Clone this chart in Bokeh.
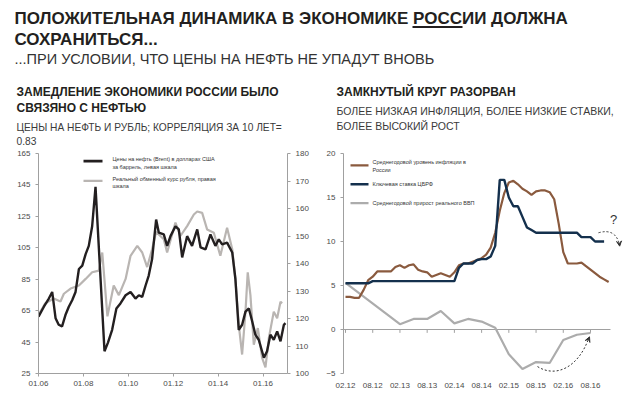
from bokeh.plotting import figure
from bokeh.layouts import column, row
from bokeh.models import Range1d, LinearAxis, FixedTicker, Arrow, VeeHead
from bokeh.core.properties import value
from bokeh.embed import file_html
from bokeh.resources import INLINE

FN = "Liberation Sans"
FA = "Liberation Sans"

# ---------------- data: left chart ----------------
oil_x = [2006.0, 2006.24, 2006.46, 2006.61, 2006.76, 2006.9, 2007.05, 2007.2, 2007.35, 2007.5,
         2007.65, 2007.8, 2007.95, 2008.1, 2008.24, 2008.39, 2008.54, 2008.94, 2009.09, 2009.28,
         2009.47, 2009.65, 2009.88, 2010.1, 2010.32, 2010.47, 2010.62, 2010.77, 2010.91, 2011.06,
         2011.24, 2011.36, 2011.58, 2011.73, 2011.88, 2012.1, 2012.25, 2012.4, 2012.62, 2012.84,
         2013.07, 2013.22, 2013.44, 2013.66, 2013.88, 2014.03, 2014.18, 2014.4, 2014.63, 2014.77,
         2014.92, 2015.07, 2015.22, 2015.37, 2015.52, 2015.66, 2015.81, 2016.04, 2016.18, 2016.33,
         2016.48, 2016.63, 2016.78, 2016.93, 2017.0]
oil_y = [61.2, 67.5, 72.7, 76.9, 60.2, 56, 55, 62.2, 67.5, 71.6,
         76.9, 91.5, 93.6, 101, 106.2, 118.7, 143.8, 39.2, 44.5, 52.8,
         66.4, 69.6, 74.8, 76.9, 72.7, 74.8, 73.8, 81, 87.3, 97.8,
         123, 114.6, 113.5, 106.2, 112.4, 118.7, 116.7, 98.9, 112.4, 106.2,
         116.7, 105.2, 104, 113.5, 106.2, 110.4, 107.2, 108.3, 102, 85.3,
         52.8, 56, 64.4, 66.4, 58.1, 49.7, 46.5, 35, 39.2, 49.7,
         46.5, 51.8, 45.5, 56, 57]
rub_x = [2006.0, 2006.3, 2006.68, 2006.98, 2007.13, 2007.43, 2007.8, 2008.1, 2008.39, 2008.69,
         2008.76, 2008.84, 2009.07, 2009.35, 2009.58, 2009.88, 2010.1, 2010.4, 2010.62, 2010.84,
         2011.06, 2011.24, 2011.58, 2011.73, 2012.1, 2012.32, 2012.62, 2012.92, 2013.07, 2013.29,
         2013.51, 2013.81, 2014.1, 2014.4, 2014.63, 2014.77, 2014.92, 2015.07, 2015.22, 2015.32,
         2015.44, 2015.59, 2015.77, 2015.96, 2016.11, 2016.26, 2016.48, 2016.63, 2016.78, 2016.85]
rub_y = [121.3, 125.5, 127.3, 126.2, 129, 130.9, 132, 134.4, 136.8, 137.4,
         140.4, 144, 120.8, 132, 128.5, 134.4, 142.8, 146.4, 144, 138.7,
         145.2, 151.5, 148.8, 144, 154.9, 150, 153.6, 157.8, 158.9, 158.4,
         152.4, 151.2, 142.8, 153, 145.2, 134.4, 117.7, 106.9, 122.5, 136.8,
         128.5, 110.5, 116.5, 105.7, 102.2, 112.9, 122.5, 120.1, 126.1, 125.5]
left_ticks = [2006, 2008, 2010, 2012, 2014, 2016]
left_tick_labels = ["01.06", "01.08", "01.10", "01.12", "01.14", "01.16"]
oil_ticks = [25, 45, 65, 85, 105, 125, 145, 165]
rub_ticks = [100, 110, 120, 130, 140, 150, 160, 170, 180]

# ---------------- data: right chart (months since 02.12) ----------------
infl_m = list(range(0, 59))
infl = [3.7, 3.7, 3.6, 3.6, 4.5, 5.6, 6.0, 6.6, 6.6, 6.6,
        6.6, 7.1, 7.3, 7.0, 7.3, 7.4, 6.8, 6.6, 6.5, 6.0,
        6.2, 6.4, 6.2, 6.0, 6.5, 7.3, 7.5, 7.5, 7.7, 7.9,
        8.1, 8.5, 9.3, 11.0, 13.5, 15.5, 16.7, 16.9, 16.5, 16.0,
        15.7, 15.3, 15.7, 15.8, 15.8, 15.6, 14.8, 12.0, 8.8, 7.5,
        7.5, 7.5, 7.6, 7.2, 6.8, 6.4, 6.0, 5.7, 5.4]
rate_m = list(range(0, 58))
rate = [5.25, 5.25, 5.25, 5.25, 5.25, 5.25, 5.5, 5.5, 5.5, 5.5,
        5.5, 5.5, 5.5, 5.5, 5.5, 5.5, 5.5, 5.5, 5.5, 5.5,
        5.5, 5.5, 5.5, 5.5, 5.5, 7.0, 7.5, 7.5, 7.5, 7.9,
        8.0, 8.0, 8.3, 9.5, 17.0, 17.0, 15.0, 14.0, 14.0, 12.8,
        11.6, 11.3, 11.0, 11.0, 11.0, 11.0, 11.0, 11.0, 11.0, 11.0,
        11.0, 11.0, 10.5, 10.5, 10.5, 10.0, 10.0, 10.0]
gdp_m = [0, 12, 15, 18, 21, 24, 27, 30, 33, 36, 39, 42, 45, 48, 51, 54]
gdp = [5.3, 0.6, 1.2, 1.2, 2.1, 0.7, 1.2, 0.9, 0.2, -2.8, -4.5, -3.7, -3.8, -1.2, -0.6, -0.4]
right_ticks = [0, 6, 12, 18, 24, 30, 36, 42, 48, 54]
right_tick_labels = ["02.12", "08.12", "02.13", "08.13", "02.14", "08.14", "02.15", "08.15", "02.16", "08.16"]
pct_ticks = [-5, 0, 5, 10, 15, 20]

OIL_C = "#231f20"
RUB_C = "#b9b5b2"
INF_C = "#8a5a3e"
RATE_C = "#14304d"
GDP_C = "#acacac"
AX_C = "#a0a0a0"
LAB_C = "#4a4a4a"


def clean(p):
    p.grid.visible = False
    p.outline_line_color = None
    p.background_fill_color = "white"
    p.border_fill_color = "white"


# ---------------- header (page pixel coordinates) ----------------
HH = 149
hdr = figure(width=640, height=HH, x_range=Range1d(0, 640), y_range=Range1d(HH, 0),
             output_backend="svg", toolbar_location=None, x_axis_type=None, y_axis_type=None,
             min_border_left=0, min_border_right=0, min_border_top=0, min_border_bottom=0)
clean(hdr)


def htext(x, y, s, size, bold=False, color="#231f20"):
    # y is the wanted baseline; the rendered glyph sits ~0.3em lower, so compensate
    hdr.text(x=[x], y=[y - 0.3 * size], text=[s], text_font=value(FN), text_font_size=f"{size}px",
             text_font_style="bold" if bold else "normal", text_baseline="alphabetic",
             text_color=color)


htext(14, 23.5, "ПОЛОЖИТЕЛЬНАЯ ДИНАМИКА В ЭКОНОМИКЕ РОССИИ ДОЛЖНА", 17, True)
htext(14, 44.5, "СОХРАНИТЬСЯ...", 17, True)
htext(14, 63, "...ПРИ УСЛОВИИ, ЧТО ЦЕНЫ НА НЕФТЬ НЕ УПАДУТ ВНОВЬ", 14.5, False, "#333333")
hdr.segment(x0=[412], y0=[26.5], x1=[462], y1=[26.5], line_width=1.8, line_color="#231f20")

htext(16, 95, "ЗАМЕДЛЕНИЕ ЭКОНОМИКИ РОССИИ БЫЛО", 12, True)
htext(16, 111, "СВЯЗЯНО С НЕФТЬЮ", 12, True)
htext(16, 130, "ЦЕНЫ НА НЕФТЬ И РУБЛЬ; КОРРЕЛЯЦИЯ ЗА 10 ЛЕТ=", 10.2, False, "#3a3a3a")
htext(16, 144, "0.83", 10.2, False, "#3a3a3a")

htext(336, 95, "ЗАМКНУТЫЙ КРУГ РАЗОРВАН", 12, True)
htext(336, 114, "БОЛЕЕ НИЗКАЯ ИНФЛЯЦИЯ, БОЛЕЕ НИЗКИЕ СТАВКИ,", 10.5, False, "#3a3a3a")
htext(336, 128.5, "БОЛЕЕ ВЫСОКИЙ РОСТ", 10.5, False, "#3a3a3a")


def style_axis(ax, tick_out=3, standoff=4):
    ax.axis_line_color = AX_C
    ax.major_tick_line_color = AX_C
    ax.minor_tick_line_color = None
    ax.major_tick_in = 0
    ax.major_tick_out = tick_out
    ax.major_label_standoff = standoff
    ax.major_label_text_font = FA
    ax.major_label_text_font_size = "8px"
    ax.major_label_text_color = LAB_C


PH = 399 - HH  # height of the chart row

# ---------------- left chart ----------------
PXL = 22.45  # px per year
lp = figure(width=312, height=PH, x_range=Range1d(2006, 2006 + 249 / PXL), y_range=Range1d(25, 165),
            output_backend="svg", toolbar_location=None,
            min_border_left=38, min_border_right=25, min_border_top=153 - HH, min_border_bottom=399 - 376)
clean(lp)
lp.extra_y_ranges = {"rub": Range1d(100, 180)}
lp.xaxis.ticker = FixedTicker(ticks=left_ticks)
lp.xaxis.major_label_overrides = {t: l for t, l in zip(left_ticks, left_tick_labels)}
lp.yaxis.ticker = FixedTicker(ticks=oil_ticks)
style_axis(lp.xaxis[0], 3, 4)
style_axis(lp.yaxis[0], 3, 5)
rax = LinearAxis(y_range_name="rub", ticker=FixedTicker(ticks=rub_ticks))
style_axis(rax, 3, 5)
lp.add_layout(rax, "right")

lp.line(rub_x, rub_y, y_range_name="rub", line_color=RUB_C, line_width=2.2)
lp.line(oil_x, oil_y, line_color=OIL_C, line_width=2.4)


def lx(px):
    return 2006 + (px - 38) / PXL


def ly(py):
    return 165 - (py - 153) * 140 / 223


lp.segment(x0=[lx(83)], y0=[ly(160.7)], x1=[lx(102)], y1=[ly(160.7)], line_color=OIL_C, line_width=2.6)
lp.segment(x0=[lx(83)], y0=[ly(180.7)], x1=[lx(102)], y1=[ly(180.7)], line_color=RUB_C, line_width=2.2)
leg_l = ["Цены на нефть (Brent) в долларах США", "за баррель, левая шкала",
         "Реальный обменный курс рубля, правая", "шкала"]
lp.text(x=[lx(112)] * 4, y=[ly(159), ly(166.5), ly(178.5), ly(186)], text=leg_l,
        text_font=value(FA), text_font_size="5.5px", text_baseline="middle", text_color="#333333")

# ---------------- right chart ----------------
PXM = 4.537  # px per month
X0 = 345


def rx(px):
    return (px - X0) / PXM


def ry(py):
    return 20 - (py - 151) * 25 / 222


rp = figure(width=328, height=PH, x_range=Range1d(rx(343), rx(626)), y_range=Range1d(-5, 20),
            output_backend="svg", toolbar_location=None,
            min_border_left=31, min_border_right=14, min_border_top=151 - HH, min_border_bottom=399 - 373)
clean(rp)
rp.yaxis.ticker = FixedTicker(ticks=pct_ticks)
style_axis(rp.yaxis[0], 3, 5)
rp.xaxis.ticker = FixedTicker(ticks=right_ticks)
rp.xaxis.major_label_overrides = {t: l for t, l in zip(right_ticks, right_tick_labels)}
style_axis(rp.xaxis[0], 0, 9)
rp.xaxis.axis_line_color = None
rp.xaxis.major_tick_line_color = None

# zero line with tick marks
rp.segment(x0=[rx(343)], y0=[0], x1=[rx(610)], y1=[0], line_color=AX_C, line_width=1)
rp.segment(x0=right_ticks, y0=[0] * len(right_ticks), x1=right_ticks,
           y1=[ry(332)] * len(right_ticks), line_color=AX_C, line_width=1)

rp.line(gdp_m, gdp, line_color=GDP_C, line_width=2.2)
rp.line(infl_m, infl, line_color=INF_C, line_width=2.2)
rp.line(rate_m, rate, line_color=RATE_C, line_width=2.4)

# legend
rp.segment(x0=[rx(350)], y0=[ry(163)], x1=[rx(368)], y1=[ry(163)], line_color=INF_C, line_width=2.4)
rp.segment(x0=[rx(350)], y0=[ry(182)], x1=[rx(368)], y1=[ry(182)], line_color=RATE_C, line_width=2.6)
rp.segment(x0=[rx(350)], y0=[ry(201)], x1=[rx(368)], y1=[ry(201)], line_color=GDP_C, line_width=2.2)
leg_r = ["Среднегодовой уровень инфляции в", "России", "Ключевая ставка ЦБРФ",
         "Среднегодовой прирост реального ВВП"]
rp.text(x=[rx(372)] * 4, y=[ry(160), ry(168), ry(182), ry(201)], text=leg_r,
        text_font=value(FA), text_font_size="5.5px", text_baseline="middle", text_color="#333333")

# question mark and dashed arrows
rp.text(x=[rx(613)], y=[ry(218)], text=["?"], text_font=value(FA), text_font_size="13px",
        text_align="center", text_baseline="middle", text_color="#333333")
rp.quadratic(x0=[rx(598)], y0=[ry(231)], cx=[rx(615)], cy=[ry(226)], x1=[rx(619)], y1=[ry(243)],
             line_color="#333333", line_width=1, line_dash="2 2")
rp.add_layout(Arrow(x_start=rx(618.6), y_start=ry(240), x_end=rx(619.2), y_end=ry(244.5),
                    line_alpha=0, end=VeeHead(size=5, fill_color="#333333", line_color="#333333")))
rp.bezier(x0=[rx(537)], y0=[ry(366)], cx0=[rx(556)], cy0=[ry(378)], cx1=[rx(578)], cy1=[ry(366)],
          x1=[rx(588)], y1=[ry(338)], line_color="#333333", line_width=1, line_dash="2 2")
rp.add_layout(Arrow(x_start=rx(586.5), y_start=ry(342), x_end=rx(589), y_end=ry(336),
                    line_alpha=0, end=VeeHead(size=5, fill_color="#333333", line_color="#333333")))

layout = column(hdr, row(lp, rp, spacing=0), spacing=0)
open("out.html", "w").write(file_html(layout, INLINE))
